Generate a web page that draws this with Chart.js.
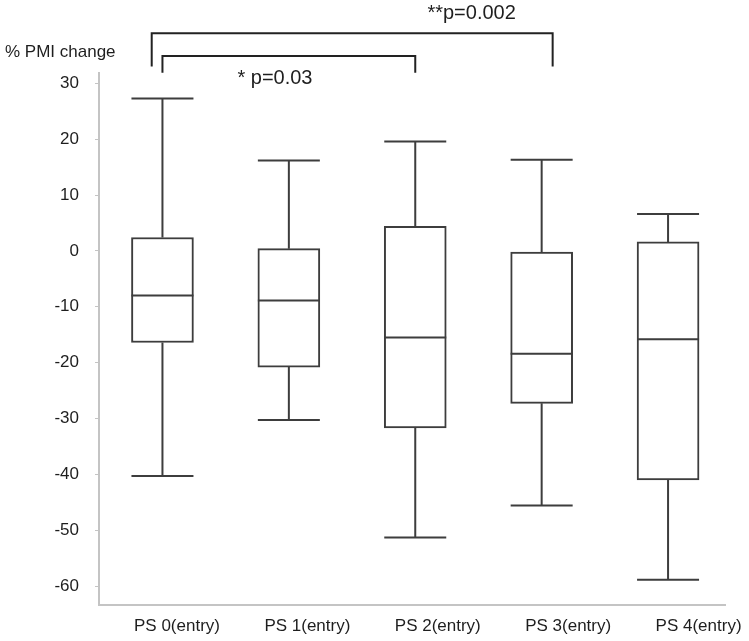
<!DOCTYPE html>
<html>
<head>
<meta charset="utf-8">
<script src="https://cdn.jsdelivr.net/npm/chart.js@4/dist/chart.umd.min.js"></script>
<style>
  html, body { margin: 0; padding: 0; background: #ffffff; }
  #wrap { position: relative; width: 749px; height: 641px; }
</style>
</head>
<body>
<div id="wrap"><canvas id="c"></canvas></div>
<script>
// ---- data ----
const categories = ['PS 0(entry)', 'PS 1(entry)', 'PS 2(entry)', 'PS 3(entry)', 'PS 4(entry)'];
const whiskerLow  = [-40.3, -30.3, -51.3, -45.6, -58.9];
const quartile1   = [-16.4, -20.8, -31.7, -27.3, -41.0];
const medians     = [ -8.0,  -8.9, -15.5, -18.4, -15.8];
const quartile3   = [  2.4,   0.4,   4.4,  -0.2,   1.6];
const whiskerHigh = [ 27.3,  16.2,  19.6,  16.3,   6.6];
const yTickValues = [30, 20, 10, 0, -10, -20, -30, -40, -50, -60];
const yAxisTitle = '% PMI change';
// significance brackets: from/to category index, text
const brackets = [
  { from: 0, to: 2, text: '* p=0.03' },
  { from: 0, to: 3, text: '**p=0.002' }
];

// ---- styling / layout ----
const FONT = "'Liberation Sans', Arial, sans-serif";
const LINE = '#3d3d3d';
const AXIS = '#c4c4c4';
const TEXT = '#1e1e1e';
// bracket geometry (x in category units, y in axis units)
const bracketGeom = [
  { x0: 0, x1: 2, top: 34.9, end: 31.9, tx: 0.89, ty: 30.8 },
  { x0: -0.085, x1: 3.087, top: 38.97, end: 33.0, tx: 2.446, ty: 42.55 }
];

const boxData = categories.map((c, i) => ({ x: i, y: [quartile1[i], quartile3[i]] }));

const boxPlugin = {
  id: 'boxPlugin',
  afterDatasetsDraw(chart) {
    const ctx = chart.ctx;
    const ys = chart.scales.y;
    const meta = chart.getDatasetMeta(0);
    ctx.save();
    ctx.strokeStyle = LINE;
    ctx.lineWidth = 2;
    ctx.lineCap = 'butt';
    meta.data.forEach((bar, i) => {
      const cx = bar.x;
      const half = bar.width / 2;
      const pMax = ys.getPixelForValue(whiskerHigh[i]);
      const pMin = ys.getPixelForValue(whiskerLow[i]);
      const pQ1 = ys.getPixelForValue(quartile1[i]);
      const pQ3 = ys.getPixelForValue(quartile3[i]);
      const pMed = ys.getPixelForValue(medians[i]);
      ctx.beginPath();
      ctx.moveTo(cx, pQ3); ctx.lineTo(cx, pMax);
      ctx.moveTo(cx - half, pMax); ctx.lineTo(cx + half, pMax);
      ctx.moveTo(cx, pQ1); ctx.lineTo(cx, pMin);
      ctx.moveTo(cx - half, pMin); ctx.lineTo(cx + half, pMin);
      ctx.moveTo(cx - half, pMed); ctx.lineTo(cx + half, pMed);
      ctx.stroke();
    });
    ctx.restore();
  },
  afterDraw(chart) {
    const ctx = chart.ctx;
    const xs = chart.scales.x;
    const ys = chart.scales.y;
    ctx.save();
    ctx.fillStyle = TEXT;
    ctx.font = '17px ' + FONT;
    ctx.textAlign = 'left';
    ctx.textBaseline = 'middle';
    ctx.fillText(yAxisTitle, 5, ys.getPixelForValue(35.6));
    ctx.strokeStyle = '#222222';
    ctx.lineWidth = 2;
    brackets.forEach((b, k) => {
      const g = bracketGeom[k];
      const xa = xs.getPixelForValue(g.x0);
      const xb = xs.getPixelForValue(g.x1);
      const yt = ys.getPixelForValue(g.top);
      const ye = ys.getPixelForValue(g.end);
      ctx.beginPath();
      ctx.moveTo(xa, ye); ctx.lineTo(xa, yt); ctx.lineTo(xb, yt); ctx.lineTo(xb, ye);
      ctx.stroke();
      ctx.font = '20px ' + FONT;
      ctx.textAlign = 'center';
      ctx.textBaseline = 'middle';
      ctx.fillStyle = TEXT;
      ctx.fillText(b.text, xs.getPixelForValue(g.tx), ys.getPixelForValue(g.ty));
    });
    ctx.restore();
  }
};

new Chart(document.getElementById('c'), {
  type: 'bar',
  data: {
    datasets: [{
      data: boxData,
      xAxisID: 'x',
      yAxisID: 'y',
      backgroundColor: '#ffffff',
      borderColor: LINE,
      borderWidth: 2,
      borderSkipped: false,
      barThickness: 62
    }]
  },
  options: {
    responsive: true,
    maintainAspectRatio: false,
    animation: false,
    layout: { padding: { top: 72.7, right: 23.3, left: 0, bottom: 0 } },
    plugins: { legend: { display: false }, tooltip: { enabled: false }, title: { display: false } },
    scales: {
      x: {
        type: 'linear',
        display: false,
        offset: false,
        min: -0.502,
        max: 4.456,
        grid: { offset: false },
        afterBuildTicks: (s) => { s.ticks = categories.map((c, i) => ({ value: i })); }
      },
      xl: {
        type: 'linear',
        position: 'bottom',
        offset: false,
        min: -0.598,
        max: 4.208,
        afterBuildTicks: (s) => { s.ticks = categories.map((c, i) => ({ value: i })); },
        afterFit: (s) => { s.height = 36; },
        grid: { display: true, offset: false, drawOnChartArea: false, drawTicks: true, tickLength: 11.5, color: 'rgba(0,0,0,0)' },
        border: { display: true, color: AXIS, width: 2 },
        ticks: {
          autoSkip: false,
          maxRotation: 0,
          padding: 0,
          color: TEXT,
          font: { family: FONT, size: 17 },
          callback: (v) => categories[v] !== undefined ? categories[v] : ''
        }
      },
      y: {
        type: 'linear',
        position: 'left',
        min: -63.4,
        max: 31.9,
        afterBuildTicks: (s) => { s.ticks = yTickValues.map(v => ({ value: v })); },
        afterFit: (s) => { s.width = 99; },
        grid: { display: true, drawOnChartArea: false, drawTicks: true, tickLength: 4, color: AXIS, lineWidth: 1 },
        border: { display: true, color: AXIS, width: 2 },
        ticks: {
          padding: 16,
          color: TEXT,
          font: { family: FONT, size: 17 }
        }
      }
    }
  },
  plugins: [boxPlugin]
});
</script>
</body>
</html>
